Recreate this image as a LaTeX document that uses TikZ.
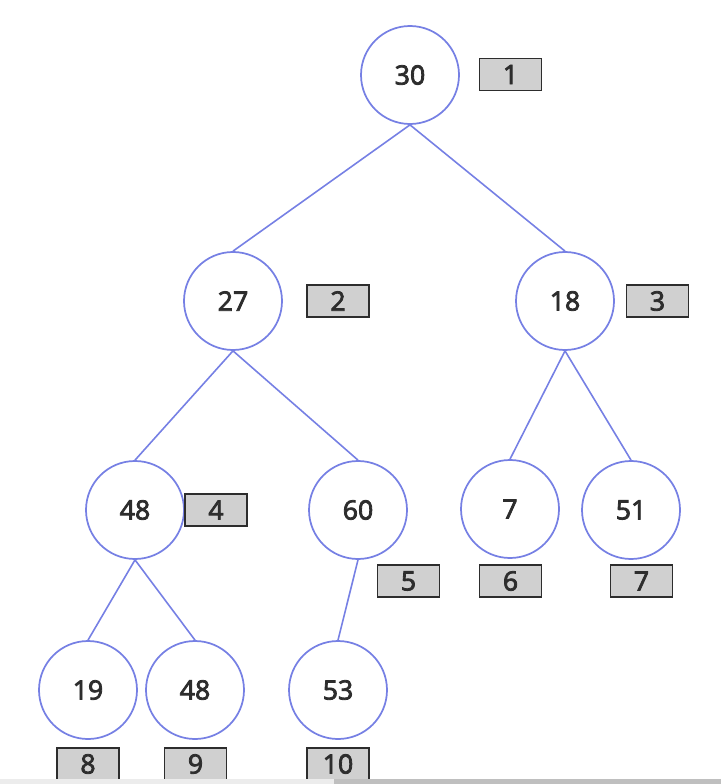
\documentclass[tikz,border=0pt]{standalone}
\usepackage{fontspec}
\setmainfont{Open Sans}
\newfontfamily\labelfont[FakeBold=3]{Open Sans}
\definecolor{edgeblue}{RGB}{118,128,228}
\definecolor{boxgray}{RGB}{208,208,208}
\definecolor{inkgray}{RGB}{45,45,45}
\begin{document}
\begin{tikzpicture}[x=0.75pt, y=-0.75pt, every node/.style={font=\labelfont\fontsize{20}{24}\selectfont, text=inkgray},
  vert/.style={circle, draw=edgeblue, line width=1.3pt, minimum size=73.5pt, inner sep=0pt, fill=white},
  idx/.style={rectangle, draw=inkgray, fill=boxgray, line width=1.4pt, minimum width=46.5pt, minimum height=24pt, inner sep=0pt}]
\useasboundingbox (0,0) rectangle (721,784);
% heap nodes
\foreach \k/\x/\y/\val in {1/410/75/30, 2/233/301/27, 3/565/301/18, 4/135/510/48, 5/358/510/60,
  6/510/509/7, 7/631/510/51, 8/88/690/19, 9/195/690/48, 10/338/690/53}
{\node[vert] (n\k) at (\x,\y) {\val};}
% array positions
\foreach \k/\x/\y in {1/510.5/74.5, 2/338/301, 3/657.5/301, 4/216/510, 5/408.5/581,
  6/510.5/581, 7/641.5/581, 8/88/764, 9/195.5/764, 10/338/764}
{\node[idx] (i\k) at (\x,\y) {\k};}
\foreach \a/\b in {1/2, 1/3, 2/4, 2/5, 3/6, 3/7, 4/8, 4/9, 5/10}
{\draw[edgeblue, line width=1.2pt] (n\a.south) -- (n\b.north);}
% scroll bar
\fill[gray!15] (0,779) rectangle (334,784);
\fill[gray!50] (334,779) rectangle (721,784);
\end{tikzpicture}
\end{document}
